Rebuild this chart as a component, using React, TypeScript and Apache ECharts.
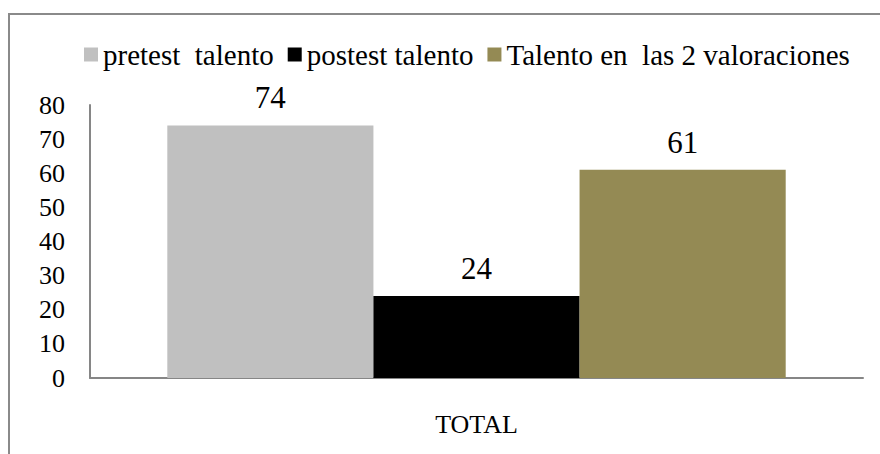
import React, { useEffect, useRef } from "react";
import * as echarts from "echarts";

const categories = ["TOTAL"];
const seriesNames = ["pretest  talento", "postest talento", "Talento en  las 2 valoraciones"];
const pretest = [74];
const postest = [24];
const ambas = [61];
const yTicks = [0, 10, 20, 30, 40, 50, 60, 70, 80];

const colors = ["#C0C0C0", "#000000", "#948A54"];
const FONT = "Liberation Serif";

export default function App() {
  const ref = useRef<HTMLDivElement>(null);
  useEffect(() => {
    if (!ref.current) return;
    const chart = echarts.init(ref.current, null, { renderer: "svg" });
    const values = [pretest, postest, ambas];
    chart.setOption({
      animation: false,
      backgroundColor: "#ffffff",
      textStyle: { fontFamily: FONT },
      graphic: [
        {
          type: "rect",
          shape: { x: 9, y: 14, width: 900, height: 500 },
          style: { fill: "none", stroke: "#8a8a8a", lineWidth: 2 },
          silent: true,
        },
      ],
      legend: {
        top: 35,
        left: 79,
        itemWidth: 14,
        itemHeight: 14,
        itemGap: 14,
        icon: "rect",
        textStyle: { fontFamily: FONT, fontSize: 29, color: "#000" },
        data: seriesNames,
      },
      grid: { left: 90, top: 105, right: 17, bottom: 76, containLabel: false },
      xAxis: {
        type: "category",
        data: categories,
        axisLine: { lineStyle: { color: "#868686", width: 2 } },
        axisTick: { show: false },
        axisLabel: { fontFamily: FONT, fontSize: 26, color: "#000", margin: 33 },
      },
      yAxis: {
        type: "value",
        min: yTicks[0],
        max: yTicks[yTicks.length - 1],
        interval: 10,
        axisLine: { show: true, lineStyle: { color: "#868686", width: 2 } },
        axisTick: { show: false },
        splitLine: { show: false },
        axisLabel: { fontFamily: FONT, fontSize: 26, color: "#000", margin: 25 },
      },
      series: seriesNames.map((name, i) => ({
        name,
        type: "bar",
        data: values[i],
        barGap: "0%",
        barCategoryGap: "20%",
        itemStyle: { color: colors[i] },
        label: {
          show: true,
          position: "top",
          distance: 12,
          fontFamily: FONT,
          fontSize: 31,
          color: "#000",
        },
      })),
    });
    return () => chart.dispose();
  }, []);
  return (
    <div
      ref={ref}
      style={{ position: "fixed", left: 0, top: 0, width: 880, height: 454 }}
    />
  );
}
